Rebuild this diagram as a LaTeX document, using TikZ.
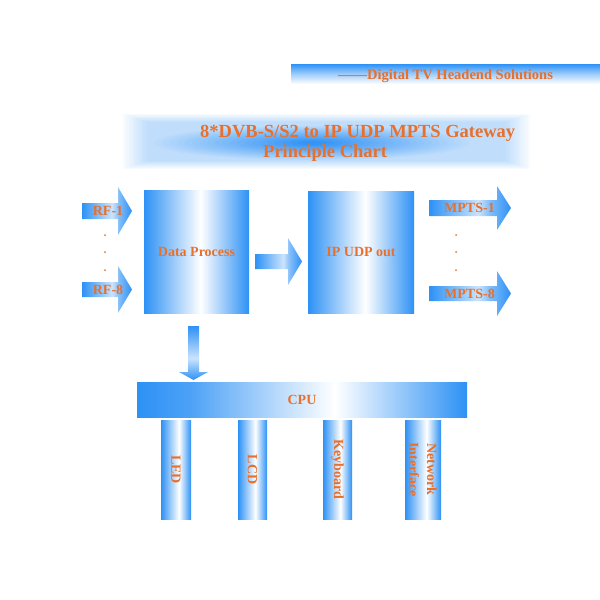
\documentclass[tikz,border=0pt]{standalone}
\usepackage{fontspec}
\setmainfont{Liberation Serif}
\definecolor{myblue}{RGB}{45,145,245}
\definecolor{txt}{RGB}{232,112,44}
\pgfdeclarehorizontalshading{boxshade}{100bp}{color(0bp)=(myblue); color(25bp)=(myblue); color(52bp)=(white); color(75bp)=(myblue); color(100bp)=(myblue)}
\pgfdeclarehorizontalshading{legshade}{100bp}{color(0bp)=(myblue); color(25bp)=(myblue); color(55bp)=(white); color(75bp)=(myblue); color(100bp)=(myblue)}
\pgfdeclarehorizontalshading{cpushade}{100bp}{color(0bp)=(myblue); color(25bp)=(myblue); color(33bp)=(myblue!85!white); color(55bp)=(white); color(75bp)=(myblue); color(100bp)=(myblue)}
\pgfdeclarehorizontalshading{arrowshade}{100bp}{color(0bp)=(myblue); color(25bp)=(myblue); color(55bp)=(myblue!25!white); color(62bp)=(myblue!60!white); color(75bp)=(myblue); color(100bp)=(myblue)}
\pgfdeclareverticalshading{downshade}{100bp}{color(0bp)=(myblue); color(25bp)=(myblue); color(45bp)=(myblue!25!white); color(75bp)=(myblue); color(100bp)=(myblue)}
\pgfdeclareverticalshading{topshade}{100bp}{color(0bp)=(white); color(25bp)=(white); color(50bp)=(myblue!45!white); color(75bp)=(myblue); color(100bp)=(myblue)}
\begin{document}
\begin{tikzpicture}[x=1pt,y=-1pt,
  lbl/.style={text=txt,font=\bfseries\fontsize{14}{18}\selectfont,inner sep=0pt},
  ttl/.style={text=txt,font=\bfseries\fontsize{18.5}{22}\selectfont,inner sep=0pt},
  blk/.style={lbl,shading=boxshade,draw=none},
  leg/.style={shading=legshade,draw=none,minimum width=30pt,minimum height=99pt,inner sep=0pt},
  barrow/.style={shading=arrowshade,draw=none},
  dot/.style={circle,fill=txt,inner sep=0pt,minimum size=2pt}]
\useasboundingbox (0,0) rectangle (600,600);
\fill[white] (0,0) rectangle (600,600);
% top banner
\path[shading=topshade] (291,64) rectangle (600,84);
\node[lbl,anchor=base west,font=\bfseries\fontsize{14.5}{18}\selectfont] (tag) at (338,79) {——Digital TV Headend Solutions};
% title glow: soft band
\foreach \i in {0,...,15} {
  \pgfmathsetmacro\c{2*\i}
  \fill[myblue!\c!white] (120+1.8*\i,113+0.6*\i) rectangle (533-1.8*\i,170-0.6*\i);
}
% title glow: centre
\foreach \i in {0,...,20} {
  \pgfmathsetmacro\c{30+3.3*\i}
  \fill[myblue!\c!white] (312,143) ellipse ({165-7.5*\i} and {18-0.8*\i});
}
\node[ttl,anchor=base west] (t1) at (200,137) {8*DVB-S/S2 to IP UDP MPTS Gateway};
\node[ttl,anchor=base west] (t2) at (263,157) {Principle Chart};
% main blocks
\node[blk,minimum width=105pt,minimum height=123pt] (dp) at (196.5,251.5) {Data Process};
\node[blk,minimum width=106pt,minimum height=122pt] (ip) at (361,252) {IP UDP out};
% RF arrows
\path[barrow] (82,203) -- (118,203) -- (118,187) -- (132,211) -- (118,235) -- (118,219) -- (82,219) -- cycle;
\node[lbl] (rf1) at (108,211) {RF-1};
\path[barrow] (82,282) -- (118,282) -- (118,266) -- (132,289.5) -- (118,313) -- (118,297) -- (82,297) -- cycle;
\node[lbl] (rf8) at (108,289.5) {RF-8};
\node[dot] (d1) at (105,235) {};
\node[dot] (d2) at (105,252) {};
\node[dot] (d3) at (105,270) {};
% middle arrow
\path[barrow] (255,254) -- (288,254) -- (288,238) -- (302,261.5) -- (288,285) -- (288,269) -- (255,269) -- cycle;
% MPTS arrows
\path[barrow] (429,200) -- (497,200) -- (497,186) -- (511,208) -- (497,230) -- (497,216) -- (429,216) -- cycle;
\node[lbl] (m1) at (469.5,208) {MPTS-1};
\path[barrow] (429,286) -- (497,286) -- (497,271) -- (511,293.5) -- (497,316) -- (497,301) -- (429,301) -- cycle;
\node[lbl] (m8) at (469.5,293.5) {MPTS-8};
\node[dot] (e1) at (456,235) {};
\node[dot] (e2) at (456,252) {};
\node[dot] (e3) at (456,270) {};
% down arrow
\path[shading=downshade] (188,326) -- (199,326) -- (199,372) -- (208,372) -- (193.5,380) -- (179,372) -- (188,372) -- cycle;
% CPU
\node[lbl,shading=cpushade,minimum width=330pt,minimum height=35pt] (cpu) at (302,399.5) {CPU};
% legs
\node[leg] (led) at (176,469.5) {};
\node[lbl,rotate=-90] at (led) {LED};
\node[leg,minimum width=29pt] (lcd) at (252.5,469.5) {};
\node[lbl,rotate=-90] at (lcd) {LCD};
\node[leg,minimum width=29pt] (kb) at (337.5,469.5) {};
\node[lbl,rotate=-90] at (kb) {Keyboard};
\node[leg,minimum width=36pt] (ni) at (423,469.5) {};
\node[lbl,rotate=-90,align=center] at (ni) {Network\\Interface};
\end{tikzpicture}
\end{document}
